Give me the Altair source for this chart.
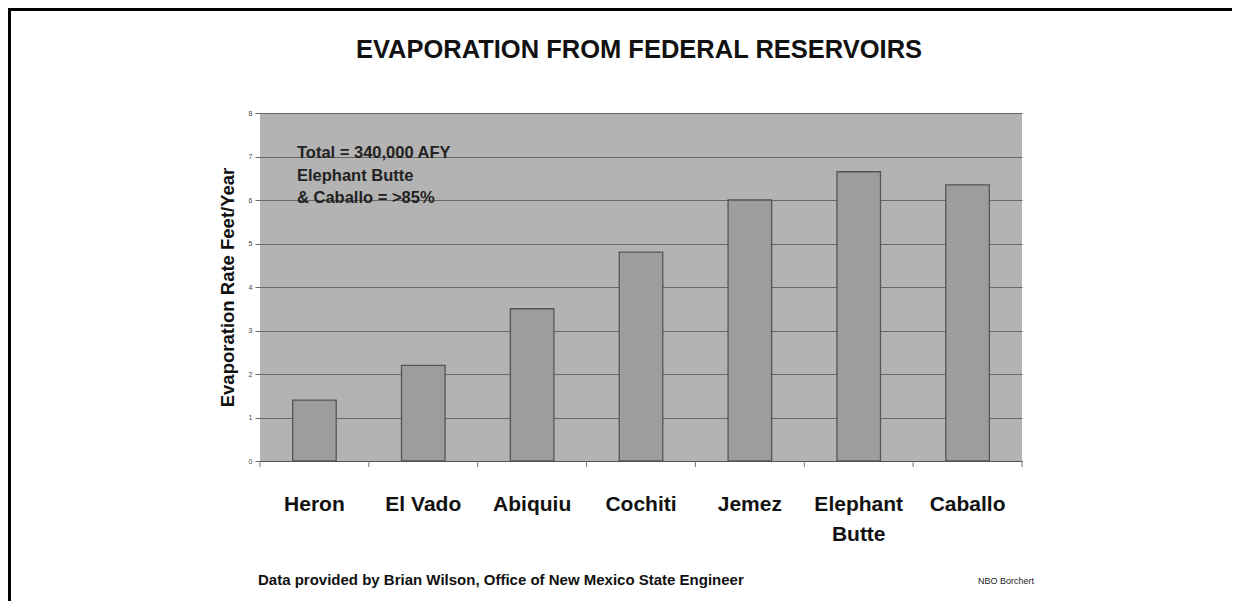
import altair as alt
import pandas as pd

# ---- data ----
reservoirs = ["Heron", "El Vado", "Abiquiu", "Cochiti", "Jemez", "Elephant Butte", "Caballo"]
rates = [1.4, 2.2, 3.5, 4.8, 6.0, 6.65, 6.35]
y_ticks = [0, 1, 2, 3, 4, 5, 6, 7, 8]

title_text = "EVAPORATION FROM FEDERAL RESERVOIRS"
y_title = "Evaporation Rate Feet/Year"
note_lines = ["Total = 340,000 AFY", "Elephant Butte", "& Caballo = >85%"]
footer_text = "Data provided by Brian Wilson, Office of New Mexico State Engineer"
credit_text = "NBO Borchert"

FONT = "Liberation Sans"
W, H = 762, 348
STEP = W / len(reservoirs)
PAD_OUTER = 0.3
PAD_INNER = 0.6

df = pd.DataFrame({"reservoir": reservoirs, "rate": rates})

x_enc = alt.X(
    "reservoir:N",
    sort=reservoirs,
    scale=alt.Scale(paddingInner=PAD_INNER, paddingOuter=PAD_OUTER),
    axis=alt.Axis(
        title=None,
        labelAngle=0,
        labelFont=FONT,
        labelFontSize=21,
        labelFontWeight="bold",
        labelColor="#111111",
        labelPadding=32,
        labelLineHeight=30,
        labelExpr="datum.label == 'Elephant Butte' ? ['Elephant', 'Butte'] : datum.label",
        ticks=False,
        domain=True,
        domainColor="#555555",
        domainWidth=1.2,
    ),
)

bars = alt.Chart(df).mark_bar(
    color="#9d9d9d", stroke="#555555", strokeWidth=1.3
).encode(
    x=x_enc,
    y=alt.Y(
        "rate:Q",
        scale=alt.Scale(domain=[0, 8], nice=False),
        axis=alt.Axis(
            values=y_ticks,
            title=y_title,
            titleFont=FONT,
            titleFontSize=18.5,
            titleFontWeight="bold",
            titleColor="#111111",
            titleAngle=-90,
            titleX=-27,
            titleY=H / 2,
            titleBaseline="alphabetic",
            titleAlign="center",
            labelFont=FONT,
            labelFontSize=7,
            labelColor="#444444",
            labelPadding=3,
            tickSize=5,
            tickColor="#666666",
            domain=False,
            grid=True,
            gridColor="#686868",
            gridWidth=1,
        ),
    ),
)

# category separator ticks below the axis (band start sits PAD_OUTER*STEP after the boundary)
sep_df = pd.DataFrame({"reservoir": reservoirs})
sep_ticks = alt.Chart(sep_df).mark_rule(color="#777777", strokeWidth=1).encode(
    x=alt.X("reservoir:N", sort=reservoirs),
    y=alt.value(H),
    y2=alt.value(H + 6),
    xOffset=alt.value(-PAD_OUTER * STEP),
)
end_tick = alt.Chart(pd.DataFrame({"reservoir": [reservoirs[-1]]})).mark_rule(
    color="#777777", strokeWidth=1
).encode(
    x=alt.X("reservoir:N", sort=reservoirs),
    y=alt.value(H),
    y2=alt.value(H + 6),
    xOffset=alt.value((1 - PAD_OUTER) * STEP),
)

one = pd.DataFrame({"k": [0]})

title = alt.Chart(pd.DataFrame({"t": [title_text]})).mark_text(
    font=FONT, fontSize=25.5, fontWeight="bold", color="#111111",
    align="center", baseline="alphabetic",
).encode(text="t:N", x=alt.value(W / 2 - 2), y=alt.value(-55))

note = alt.Chart(pd.DataFrame({"t": [note_lines]})).mark_text(
    font=FONT, fontSize=16.5, fontWeight="bold", color="#222222",
    align="left", baseline="alphabetic", lineHeight=22.5,
).encode(text="t", x=alt.value(37), y=alt.value(45))

footer = alt.Chart(pd.DataFrame({"t": [footer_text]})).mark_text(
    font=FONT, fontSize=15, fontWeight="bold", color="#111111",
    align="left", baseline="alphabetic",
).encode(text="t:N", x=alt.value(-2), y=alt.value(472))

credit = alt.Chart(pd.DataFrame({"t": [credit_text]})).mark_text(
    font=FONT, fontSize=9, color="#222222",
    align="left", baseline="alphabetic",
).encode(text="t:N", x=alt.value(718), y=alt.value(471))

top_border = alt.Chart(one).mark_rule(color="#000000", strokeWidth=3).encode(
    x=alt.value(-252), x2=alt.value(W + 210), y=alt.value(-103.5)
)
left_border = alt.Chart(one).mark_rule(color="#000000", strokeWidth=3).encode(
    x=alt.value(-250.5), y=alt.value(-105), y2=alt.value(H + 140)
)

chart = alt.layer(
    bars, sep_ticks, end_tick, title, note, footer, credit, top_border, left_border
).properties(
    width=W,
    height=H,
    autosize=alt.AutoSizeParams(type="none"),
    padding={"left": 252, "top": 105, "right": 210, "bottom": 140},
    background="#ffffff",
).configure_view(
    fill="#b3b3b3", stroke=None
)

chart.save("out.html", embed_options={"renderer": "svg", "actions": False})
